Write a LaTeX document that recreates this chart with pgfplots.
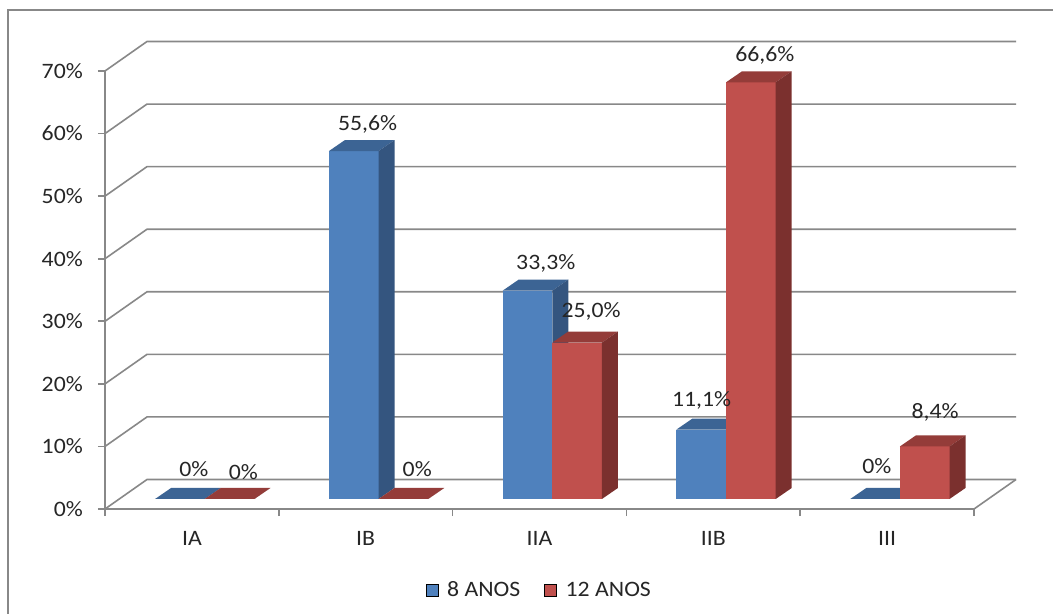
\documentclass[border=0pt]{standalone}
\usepackage{fontspec}
\setmainfont{Carlito}[FakeStretch=1.08]
\usepackage{pgfplots}
\usepackage{pgfplotstable}
\pgfplotsset{compat=1.18}
\definecolor{bF}{HTML}{4F81BD}
\definecolor{bT}{HTML}{3C6494}
\definecolor{bS}{HTML}{34557F}
\definecolor{rF}{HTML}{C0504D}
\definecolor{rT}{HTML}{943C39}
\definecolor{rS}{HTML}{7B302E}
\definecolor{gl}{HTML}{888888}
\definecolor{tx}{HTML}{262626}

\pgfplotstableread{
x a b la lb dxa dya dxb dyb
0 0 0 0 0 0 0.5 0 0
1 55.6 0 55,6 0 0 0 0 0.5
2 33.3 25.0 33,3 25,0 0.025 0 0 0.6
3 11.1 66.6 11,1 66,6 -0.078 0.4 0 0
4 0 8.4 0 8,4 -0.07 1.0 -0.02 1.2
}\datatable

% #1 left x of front face (axis units), #2 value, #3 front, #4 top, #5 side colour
\newcommand\barfaces[5]{%
  \pgfmathsetmacro\xa{#1}%
  \pgfmathsetmacro\xb{#1+0.2855}%
  \pgfmathsetmacro\xc{#1+0.2855+0.092}%
  \pgfmathsetmacro\xd{#1+0.092}%
  \pgfmathsetmacro\ya{1.6}%
  \pgfmathsetmacro\yt{#2+1.6}%
  \pgfmathsetmacro\yu{#2+1.6+1.76}%
  \pgfmathsetmacro\yv{1.6+1.76}%
  \edef\tmp{%
    \noexpand\addplot[forget plot, fill=#3, draw=none, mark=none] coordinates {(\xa,\ya) (\xb,\ya) (\xb,\yt) (\xa,\yt)} -- cycle;
    \noexpand\addplot[forget plot, fill=#4, draw=none, mark=none] coordinates {(\xa,\yt) (\xb,\yt) (\xc,\yu) (\xd,\yu)} -- cycle;
    \noexpand\addplot[forget plot, fill=#5, draw=none, mark=none] coordinates {(\xb,\ya) (\xc,\yv) (\xc,\yu) (\xb,\yt)} -- cycle;
  }\tmp
}

\begin{document}
\begin{tikzpicture}[font=\fontsize{22bp}{26bp}\selectfont]
\useasboundingbox (0,0) rectangle (1053bp,614bp);
\fill[white] (0,0) rectangle (1053bp,614bp);
\draw[gl, line width=2bp] (8bp,-5bp) -- (8bp,604bp) -- (1060bp,604bp);
\begin{axis}[
  at={(105bp,105bp)}, anchor=south west,
  x=173.8bp, y=6.257bp,
  xmin=0, xmax=5.25, ymin=0, ymax=75,
  enlargelimits=false, clip=false,
  axis line style={draw=none},
  tick align=outside, tick pos=left,
  major tick length=7bp,
  tick style={gl, line width=1.6bp},
  ytick={0,10,20,30,40,50,60,70},
  yticklabels={0\%,10\%,20\%,30\%,40\%,50\%,60\%,70\%},
  yticklabel style={anchor=east, inner sep=0pt, xshift=-15bp, text=tx, font=\fontsize{22bp}{26bp}\selectfont},
  xtick={0,1,2,3,4,5}, xticklabels={},
  extra x ticks={0.5,1.5,2.5,3.5,4.5},
  extra x tick labels={IA,IB,IIA,IIB,III},
  extra x tick style={major tick length=0pt, xticklabel style={anchor=base, inner sep=0pt, yshift=-36.7bp, text=tx, font=\fontsize{22bp}{26bp}\selectfont}},
  legend style={draw=none, fill=none, at={(0.476,-0.172)}, anchor=center,
    font=\fontsize{22bp}{26bp}\selectfont, text=tx, inner sep=0pt,
    /tikz/every even column/.append style={column sep=22bp}},
  legend columns=2,
  legend image code/.code={\fill[#1] (0bp,-6bp) rectangle (12bp,6bp); \path (19bp,0bp);},
]
% walls and floor
\pgfplotsinvokeforeach{0,10,20,30,40,50,60,70}{
  \draw[gl, line width=1.6bp] (axis cs:0,#1) -- ++(42bp,29.5bp) -- ++(869bp,0bp);
}
\draw[gl, line width=1.6bp] (axis cs:0,70) -- (axis cs:0,0) -- (axis cs:5,0) -- ++(42bp,29.5bp);
% bars
\pgfplotsinvokeforeach{0,1,2,3,4}{
  \pgfplotstablegetelem{#1}{a}\of\datatable \let\va=\pgfplotsretval
  \barfaces{#1+0.2882}{\va}{bF}{bT}{bS}
  \pgfplotstablegetelem{#1}{b}\of\datatable \let\vb=\pgfplotsretval
  \barfaces{#1+0.5737}{\vb}{rF}{rT}{rS}
}
% data labels
\addplot[forget plot, draw=none, mark=none, nodes near coords={\pgfplotspointmeta\%},
  point meta=explicit symbolic,
  every node near coord/.append style={anchor=center, inner sep=0pt, text=tx, font=\fontsize{22bp}{26bp}\selectfont}]
  table[x expr=\thisrow{x}+0.511+\thisrow{dxa}, y expr=\thisrow{a}+5.9+\thisrow{dya}, meta=la] {\datatable};
\addplot[forget plot, draw=none, mark=none, nodes near coords={\pgfplotspointmeta\%},
  point meta=explicit symbolic,
  every node near coord/.append style={anchor=center, inner sep=0pt, text=tx, font=\fontsize{22bp}{26bp}\selectfont}]
  table[x expr=\thisrow{x}+0.7965+\thisrow{dxb}, y expr=\thisrow{b}+5.9+\thisrow{dyb}, meta=lb] {\datatable};
\addlegendimage{fill=bF}
\addlegendentry{8 ANOS}
\addlegendimage{fill=rF}
\addlegendentry{12 ANOS}
\end{axis}
\end{tikzpicture}
\end{document}
